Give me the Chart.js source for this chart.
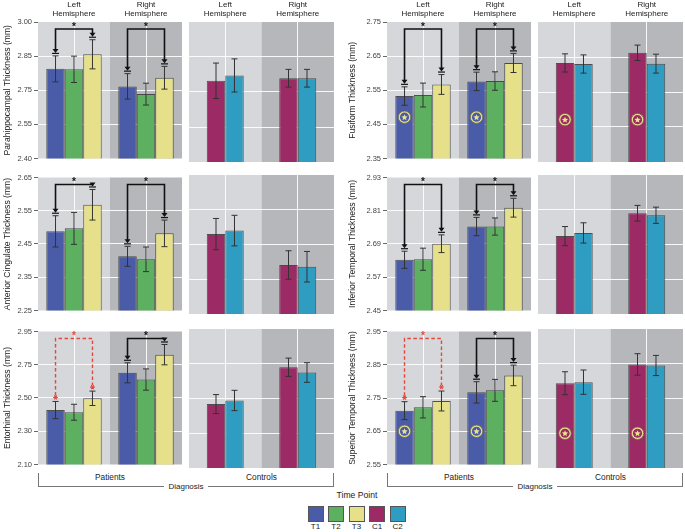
<!DOCTYPE html>
<html>
<head>
<meta charset="utf-8">
<title>Cortical thickness by time point</title>
<script src="https://cdn.jsdelivr.net/npm/chart.js@4.4.1/dist/chart.umd.min.js"></script>
<style>
  body { margin: 0; background: #fff; font-family: "Liberation Sans", Arial, sans-serif; }
  #fig { position: relative; width: 685px; height: 532px; overflow: hidden; }
  #fig canvas, #fig .lbl, #fig .ln, #fig .sw { position: absolute; }
  .lbl { color: #222; white-space: nowrap; transform: translate(-50%, -50%); line-height: 1; }
  .ln { background: #777; }
  .sw { width: 14px; height: 14px; border: 1px solid #555; }
</style>
</head>
<body>
<div id="fig"></div>
<script>
// Series (time points) and facets
const seriesNames = ["T1", "T2", "T3", "C1", "C2"];
const seriesColors = ["#4a5ba8", "#5cb060", "#e6e08b", "#9c2a64", "#2f9cc2"];
const hemispheres = ["Left Hemisphere", "Right Hemisphere"];
const groups = ["Patients", "Controls"];

// Each mean/err array: one entry per series (T1,T2,T3,C1,C2) as [Left, Right]
// Tick labels bottom to top, as printed on the axis
const parahippocampalTicks = ["2.40", "2.55", "2.75", "2.85", "3.00"];
const parahippocampalMean = [[2.794, 2.717], [2.792, 2.683], [2.858, 2.755], [2.748, 2.759], [2.771, 2.759]];
const parahippocampalErr = [[0.057, 0.056], [0.058, 0.048], [0.064, 0.050], [0.076, 0.038], [0.071, 0.038]];
const parahippocampalSig = ["sig", "sig"];

const fusiformTicks = ["2.35", "2.45", "2.55", "2.65", "2.75"];
const fusiformMean = [[2.533, 2.576], [2.536, 2.577], [2.567, 2.630], [2.633, 2.662], [2.630, 2.631]];
const fusiformErr = [[0.027, 0.027], [0.035, 0.027], [0.029, 0.028], [0.026, 0.022], [0.026, 0.027]];
const fusiformSig = ["sig", "sig"];
const fusiformMarker = 2.471;

const cingulateTicks = ["2.25", "2.35", "2.45", "2.55", "2.65"];
const cingulateMean = [[2.488, 2.413], [2.497, 2.404], [2.568, 2.482], [2.480, 2.391], [2.490, 2.386]];
const cingulateErr = [[0.047, 0.030], [0.048, 0.037], [0.046, 0.040], [0.045, 0.041], [0.044, 0.044]];
const cingulateSig = ["sig", "sig"];

const infTemporalTicks = ["2.45", "2.57", "2.69", "2.81", "2.93"];
const infTemporalMean = [[2.633, 2.753], [2.635, 2.753], [2.691, 2.821], [2.719, 2.798], [2.730, 2.791]];
const infTemporalErr = [[0.031, 0.033], [0.040, 0.031], [0.032, 0.034], [0.033, 0.027], [0.035, 0.028]];
const infTemporalSig = ["sig", "sig"];

const entorhinalTicks = ["2.10", "2.30", "2.50", "2.75", "2.95"];
const entorhinalMean = [[2.448, 2.686], [2.434, 2.643], [2.523, 2.802], [2.491, 2.716], [2.513, 2.684]];
const entorhinalErr = [[0.055, 0.064], [0.051, 0.068], [0.046, 0.065], [0.058, 0.056], [0.062, 0.060]];
const entorhinalSig = ["trend", "sig"];

const supTemporalTicks = ["2.55", "2.65", "2.75", "2.85", "2.95"];
const supTemporalMean = [[2.712, 2.767], [2.722, 2.773], [2.741, 2.818], [2.794, 2.848], [2.797, 2.845]];
const supTemporalErr = [[0.027, 0.032], [0.032, 0.033], [0.030, 0.031], [0.033, 0.031], [0.035, 0.029]];
const supTemporalSig = ["trend", "sig"];
const supTemporalMarker = 2.650;

const panels = [
  { title: "Parahippocampal Thickness (mm)", ticks: parahippocampalTicks, mean: parahippocampalMean, err: parahippocampalErr, sig: parahippocampalSig, marker: null },
  { title: "Fusiform Thickness (mm)", ticks: fusiformTicks, mean: fusiformMean, err: fusiformErr, sig: fusiformSig, marker: fusiformMarker },
  { title: "Anterior Cingulate Thickness (mm)", ticks: cingulateTicks, mean: cingulateMean, err: cingulateErr, sig: cingulateSig, marker: null },
  { title: "Inferior Temporal Thickness (mm)", ticks: infTemporalTicks, mean: infTemporalMean, err: infTemporalErr, sig: infTemporalSig, marker: null },
  { title: "Entorhinal Thickness (mm)", ticks: entorhinalTicks, mean: entorhinalMean, err: entorhinalErr, sig: entorhinalSig, marker: null },
  { title: "Superior Temporal Thickness (mm)", ticks: supTemporalTicks, mean: supTemporalMean, err: supTemporalErr, sig: supTemporalSig, marker: supTemporalMarker },
];

// Layout of the grid (pixel edges of plot areas)
const COLS = [
  { axisLeft: 0, pL: 38, pR: 182, cL: 189, cR: 334 },
  { axisLeft: 345, pL: 387, pR: 531, cL: 538, cR: 683 },
];
const ROWS = [
  { top: 22, bottom: 162 },
  { top: 175, bottom: 314 },
  { top: 329, bottom: 468 },
];
const BG_LIGHT = "#d5d7db";
const BG_DARK = "#b5b7bb";
const FONT = "'Liberation Sans', Arial, sans-serif";
const TREND_RED = "#e4473c";

const fig = document.getElementById("fig");

// Background panels: light left hemisphere, darker right hemisphere
const bgPlugin = {
  id: "hemiBg",
  beforeDraw(chart) {
    const { ctx, chartArea: a } = chart;
    const mid = (a.left + a.right) / 2;
    ctx.save();
    ctx.fillStyle = BG_LIGHT;
    ctx.fillRect(a.left, a.top, mid - a.left, a.bottom - a.top);
    ctx.fillStyle = BG_DARK;
    ctx.fillRect(mid, a.top, a.right - mid, a.bottom - a.top);
    ctx.restore();
  },
};

// Error bars from each dataset's "errors" array
const errorBarPlugin = {
  id: "errorBars",
  afterDatasetsDraw(chart) {
    const { ctx } = chart;
    const y = chart.scales.y;
    ctx.save();
    ctx.strokeStyle = "#333";
    ctx.lineWidth = 1;
    chart.data.datasets.forEach((ds, i) => {
      chart.getDatasetMeta(i).data.forEach((bar, j) => {
        const hi = y.getPixelForValue(ds.data[j] + ds.errors[j]);
        const lo = y.getPixelForValue(ds.data[j] - ds.errors[j]);
        ctx.beginPath();
        ctx.moveTo(bar.x, hi); ctx.lineTo(bar.x, lo);
        ctx.moveTo(bar.x - 3, hi); ctx.lineTo(bar.x + 3, hi);
        ctx.moveTo(bar.x - 3, lo); ctx.lineTo(bar.x + 3, lo);
        ctx.stroke();
      });
    });
    ctx.restore();
  },
};

function drawStar(ctx, cx, cy, r, color) {
  ctx.beginPath();
  for (let k = 0; k < 10; k++) {
    const rad = k % 2 === 0 ? r : r * 0.45;
    const ang = -Math.PI / 2 + (k * Math.PI) / 5;
    const px = cx + rad * Math.cos(ang);
    const py = cy + rad * Math.sin(ang);
    if (k === 0) ctx.moveTo(px, py); else ctx.lineTo(px, py);
  }
  ctx.closePath();
  ctx.fillStyle = color;
  ctx.fill();
}

function drawAsterisk(ctx, cx, cy, r) {
  ctx.beginPath();
  for (let k = 0; k < 3; k++) {
    const ang = (k * Math.PI) / 3;
    ctx.moveTo(cx - r * Math.cos(ang), cy - r * Math.sin(ang));
    ctx.lineTo(cx + r * Math.cos(ang), cy + r * Math.sin(ang));
  }
  ctx.stroke();
}

function makeBracketPlugin(panel) {
  return {
    id: "brackets",
    afterDraw(chart) {
      const { ctx, chartArea: a } = chart;
      const y = chart.scales.y;
      const level = a.top + 7;
      const m0 = chart.getDatasetMeta(0), m2 = chart.getDatasetMeta(2);
      const d0 = chart.data.datasets[0], d2 = chart.data.datasets[2];
      ctx.save();
      panel.sig.forEach((kind, j) => {
        const x1 = m0.data[j].x, x2 = m2.data[j].x;
        const t1 = y.getPixelForValue(d0.data[j] + d0.errors[j]) - 3;
        const t2 = y.getPixelForValue(d2.data[j] + d2.errors[j]) - 3;
        const color = kind === "sig" ? "#111" : TREND_RED;
        ctx.strokeStyle = color;
        ctx.fillStyle = color;
        ctx.lineWidth = kind === "sig" ? 1.6 : 1.4;
        ctx.setLineDash(kind === "sig" ? [] : [3.5, 2.5]);
        ctx.beginPath();
        ctx.moveTo(x1, t1 - 3);
        ctx.lineTo(x1, level);
        ctx.lineTo(x2, level);
        ctx.lineTo(x2, t2 - 3);
        ctx.stroke();
        ctx.setLineDash([]);
        [[x1, t1], [x2, t2]].forEach(([tx, ty]) => {
          if (kind === "sig") {
            ctx.beginPath();
            ctx.moveTo(tx - 3, ty - 4); ctx.lineTo(tx + 3, ty - 4); ctx.lineTo(tx, ty);
            ctx.closePath(); ctx.fill();
            ctx.lineWidth = 1.2;
            ctx.beginPath(); ctx.moveTo(tx - 3.5, ty + 0.5); ctx.lineTo(tx + 3.5, ty + 0.5); ctx.stroke();
          } else {
            ctx.lineWidth = 1.1;
            drawAsterisk(ctx, tx, ty - 1, 2.4);
          }
        });
        ctx.font = "bold 10px " + FONT;
        ctx.textAlign = "center";
        ctx.textBaseline = "middle";
        ctx.fillText("*", (x1 + x2) / 2, level - 2);
      });
      ctx.restore();
    },
  };
}

function makeMarkerPlugin(panel, firstSeries) {
  return {
    id: "markers",
    afterDatasetsDraw(chart) {
      if (panel.marker === null) return;
      const { ctx } = chart;
      const cy = chart.scales.y.getPixelForValue(panel.marker);
      ctx.save();
      chart.getDatasetMeta(0).data.forEach((bar) => {
        ctx.beginPath(); ctx.arc(bar.x, cy, 6.2, 0, Math.PI * 2);
        ctx.fillStyle = "#ebe48f"; ctx.fill();
        ctx.lineWidth = 0.8; ctx.strokeStyle = "#6e6c3c"; ctx.stroke();
        ctx.beginPath(); ctx.arc(bar.x, cy, 4.6, 0, Math.PI * 2);
        ctx.fillStyle = seriesColors[firstSeries]; ctx.fill();
        drawStar(ctx, bar.x, cy + 0.3, 3.3, "#ebe48f");
      });
      ctx.restore();
    },
  };
}

function makeFacet(panel, row, col, facet) {
  const cg = COLS[col], rg = ROWS[row];
  const isPat = facet === 0;
  const areaL = isPat ? cg.pL : cg.cL;
  const areaR = isPat ? cg.pR : cg.cR;
  const left = isPat ? cg.axisLeft : areaL - 1;
  const axisW = isPat ? areaL - cg.axisLeft : 0;
  const headH = row === 0 ? 22 : 4;
  const top = rg.top - headH;
  const width = areaR - left + 1;
  const height = rg.bottom - top + 3;

  const canvas = document.createElement("canvas");
  canvas.width = width;
  canvas.height = height;
  canvas.style.left = left + "px";
  canvas.style.top = top + "px";
  canvas.style.width = width + "px";
  canvas.style.height = height + "px";
  fig.appendChild(canvas);

  const series = isPat ? [0, 1, 2] : [3, 4];
  const yMin = parseFloat(panel.ticks[0]);
  const yMax = parseFloat(panel.ticks[panel.ticks.length - 1]);
  const nT = panel.ticks.length - 1;

  const plugins = [bgPlugin, errorBarPlugin, makeMarkerPlugin(panel, series[0])];
  if (isPat) plugins.push(makeBracketPlugin(panel));

  return new Chart(canvas, {
    type: "bar",
    data: {
      labels: hemispheres.map((h) => h.split(" ")),
      datasets: series.map((s) => ({
        label: seriesNames[s],
        data: panel.mean[s],
        errors: panel.err[s],
        backgroundColor: seriesColors[s],
        borderColor: "rgba(45,45,45,0.8)",
        borderWidth: 1,
        borderSkipped: "bottom",
        categoryPercentage: isPat ? 0.77 : 0.51,
        barPercentage: 1,
      })),
    },
    options: {
      responsive: false,
      animation: false,
      devicePixelRatio: 1,
      layout: { padding: { left: isPat ? 0 : 1, right: 1, top: 0, bottom: 3 } },
      plugins: { legend: { display: false }, tooltip: { enabled: false } },
      scales: {
        x: {
          position: "top",
          grid: { color: "rgba(255,255,255,0.9)", offset: false, drawTicks: false, lineWidth: 1 },
          border: { display: false },
          ticks: { display: row === 0, color: "#222", padding: 3, font: { family: FONT, size: 8, lineHeight: 1.2 } },
          afterFit: (s) => { s.height = headH; },
        },
        y: {
          min: yMin,
          max: yMax,
          afterBuildTicks: (s) => {
            s.ticks = panel.ticks.map((t, i) => ({ value: yMin + (i * (yMax - yMin)) / nT }));
          },
          grid: {
            color: (c) => (c.index === 0 || c.index === nT ? "rgba(0,0,0,0)" : "rgba(255,255,255,0.9)"),
            tickColor: "#666",
            tickLength: 4,
            drawTicks: isPat,
          },
          border: { display: false },
          ticks: {
            display: isPat,
            color: "#444",
            padding: 2,
            font: { family: FONT, size: 7.5 },
            callback: (v, i) => panel.ticks[i],
          },
          title: {
            display: isPat,
            text: panel.title,
            color: "#222",
            padding: { top: 2, bottom: 2 },
            font: { family: FONT, size: 8.6 },
          },
          afterFit: (s) => { s.width = axisW; },
        },
      },
    },
    plugins,
  });
}

panels.forEach((p, k) => {
  const row = Math.floor(k / 2), col = k % 2;
  makeFacet(p, row, col, 0);
  makeFacet(p, row, col, 1);
});

// Facet labels and Diagnosis bracket below the bottom row
function addLabel(text, x, y, size) {
  const d = document.createElement("div");
  d.className = "lbl";
  d.textContent = text;
  d.style.left = x + "px";
  d.style.top = y + "px";
  d.style.fontSize = size + "px";
  fig.appendChild(d);
  return d;
}
function addLine(x, y, w, h) {
  const d = document.createElement("div");
  d.className = "ln";
  d.style.left = x + "px";
  d.style.top = y + "px";
  d.style.width = w + "px";
  d.style.height = h + "px";
  fig.appendChild(d);
}

COLS.forEach((cg) => {
  addLabel(groups[0], (cg.pL + cg.pR) / 2, 477, 8.3);
  addLabel(groups[1], (cg.cL + cg.cR) / 2, 477, 8.3);
  const mid = (cg.pL + cg.cR) / 2;
  addLine(cg.pL, 473, 1, 14);
  addLine(cg.cR - 1, 473, 1, 14);
  addLine(cg.pL, 486, mid - 22 - cg.pL, 1);
  addLine(mid + 22, 486, cg.cR - mid - 22, 1);
  addLabel("Diagnosis", mid, 486.5, 8);
});

// Legend
addLabel("Time Point", 357, 495, 8.6);
seriesNames.forEach((name, i) => {
  const x = 307.5 + i * 20.5;
  const sw = document.createElement("div");
  sw.className = "sw";
  sw.style.left = x + "px";
  sw.style.top = "506px";
  sw.style.background = seriesColors[i];
  fig.appendChild(sw);
  addLabel(name, x + 8, 527, 8);
});
</script>
</body>
</html>
